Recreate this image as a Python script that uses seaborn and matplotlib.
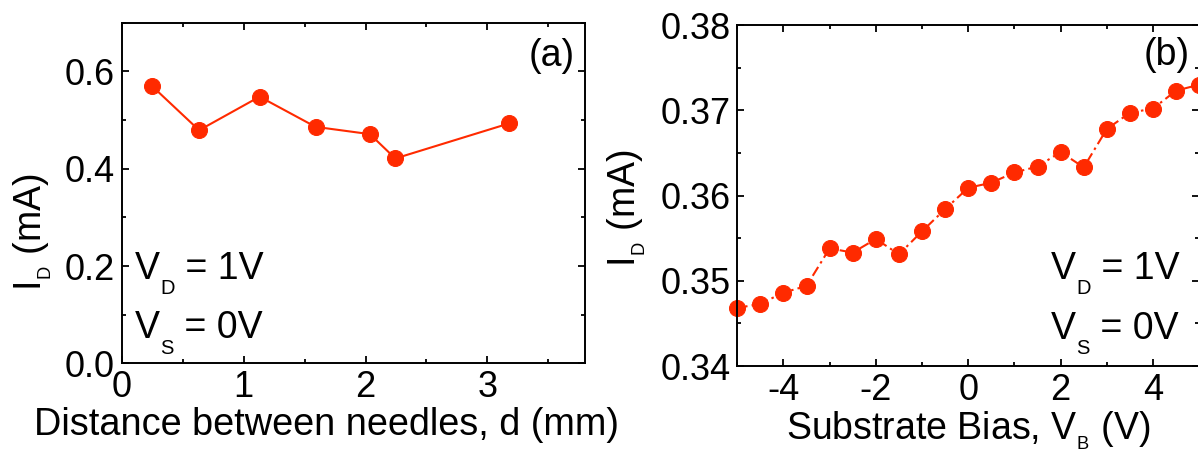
import matplotlib
matplotlib.use("Agg")
import matplotlib.pyplot as plt
from matplotlib.ticker import MultipleLocator, FormatStrFormatter
import seaborn as sns

# panel (a): drain current vs needle distance
distance_mm = [0.248, 0.635, 1.131, 1.590, 2.036, 2.244, 3.177]
current_a_mA = [0.570, 0.479, 0.548, 0.486, 0.471, 0.421, 0.493]

# panel (b): drain current vs substrate bias
bias_V = [-5.0, -4.5, -4.0, -3.5, -3.0, -2.5, -2.0, -1.5, -1.0, -0.5, 0.0,
          0.5, 1.0, 1.5, 2.0, 2.5, 3.0, 3.5, 4.0, 4.5, 5.0]
current_b_mA = [0.3468, 0.3473, 0.3486, 0.3494, 0.3538, 0.3533, 0.3549, 0.3531,
                0.3558, 0.3584, 0.3609, 0.3615, 0.3627, 0.3634, 0.3651, 0.3633,
                0.3678, 0.3697, 0.3702, 0.3723, 0.3730]

red = '#ff2a00'

sns.set_style('ticks')
plt.rcParams['font.family'] = ['Liberation Sans', 'DejaVu Sans']
plt.rcParams['mathtext.default'] = 'regular'
plt.rcParams['axes.unicode_minus'] = False
plt.rcParams['text.color'] = 'black'
plt.rcParams['axes.labelcolor'] = 'black'


def sub_text(ax, x, y, main, sub, rest):
    # main letter, lowered small subscript, then the rest on the main baseline
    t1 = ax.text(x, y, main, transform=ax.transAxes, fontsize=27,
                 ha='left', va='baseline')
    t2 = ax.annotate(sub, xy=(1, 0), xycoords=t1, xytext=(0.5, -5.2),
                     textcoords='offset points', fontsize=14.5,
                     ha='left', va='baseline')
    ax.annotate(rest, xy=(1, 0), xycoords=(t2, t1), fontsize=27,
                ha='left', va='bottom')


fig = plt.figure(figsize=(11.98, 4.63), dpi=100)
ax1 = fig.add_axes([0.1016, 0.2153, 0.3867, 0.7356])
ax2 = fig.add_axes([0.6154, 0.2095, 0.3856, 0.7365])

sns.lineplot(x=distance_mm, y=current_a_mA, ax=ax1, color=red, marker='o',
             markersize=11.5, markeredgecolor=red, linewidth=1.5, clip_on=False)
sns.lineplot(x=bias_V, y=current_b_mA, ax=ax2, color=red, marker='o',
             markersize=11.5, markeredgecolor=red, linewidth=1.5,
             linestyle=(0, (5, 2, 1.2, 2)), clip_on=False)

ax1.set_xlim(0, 3.8)
ax1.set_ylim(0, 0.7)
ax1.xaxis.set_major_locator(MultipleLocator(1))
ax1.xaxis.set_minor_locator(MultipleLocator(0.5))
ax1.yaxis.set_major_locator(MultipleLocator(0.2))
ax1.yaxis.set_minor_locator(MultipleLocator(0.1))
ax1.yaxis.set_major_formatter(FormatStrFormatter('%.1f'))

ax2.set_xlim(-5, 5)
ax2.set_ylim(0.34, 0.38)
ax2.xaxis.set_major_locator(MultipleLocator(2))
ax2.xaxis.set_minor_locator(MultipleLocator(1))
ax2.yaxis.set_major_locator(MultipleLocator(0.01))
ax2.yaxis.set_minor_locator(MultipleLocator(0.005))
ax2.yaxis.set_major_formatter(FormatStrFormatter('%.2f'))

for ax in (ax1, ax2):
    for sp in ax.spines.values():
        sp.set_linewidth(1.4)
        sp.set_color('black')
    ax.tick_params(which='both', direction='in', top=True, right=True,
                   width=1.3, colors='black', labelsize=26)
    ax.tick_params(which='major', length=5, pad=5)
    ax.tick_params(which='minor', length=3)

ax1.set_xlabel('Distance between needles, d (mm)', fontsize=27.3, labelpad=1)
ax1.xaxis.label.set_x(0.441)
ax1.set_ylabel('$I_{_D}$ (mA)', fontsize=27)
ax1.yaxis.set_label_coords(-0.146, 0.385)
ax2.set_xlabel('Substrate Bias, $V_{_B}$ (V)', fontsize=27, labelpad=1)
ax2.set_ylabel('$I_{_D}$ (mA)', fontsize=27)
ax2.yaxis.set_label_coords(-0.193, 0.463)

ax1.text(0.929, 0.902, '(a)', transform=ax1.transAxes, fontsize=27,
         ha='center', va='center')
sub_text(ax1, 0.028, 0.249, 'V', 'D', ' = 1V')
sub_text(ax1, 0.028, 0.073, 'V', 'S', ' = 0V')

ax2.text(0.929, 0.912, '(b)', transform=ax2.transAxes, fontsize=27,
         ha='center', va='center')
sub_text(ax2, 0.679, 0.256, 'V', 'D', ' = 1V')
sub_text(ax2, 0.679, 0.080, 'V', 'S', ' = 0V')

fig.savefig('out.png', dpi=100)
